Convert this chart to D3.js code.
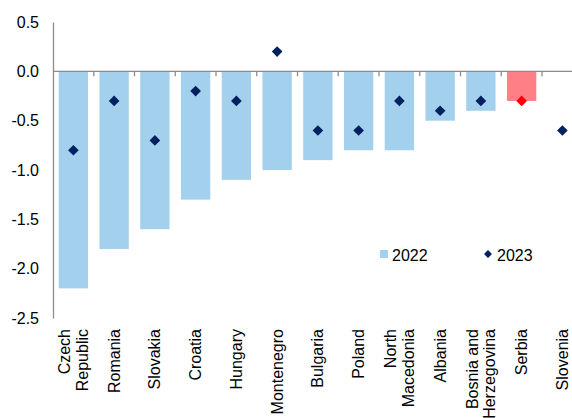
<!DOCTYPE html>
<html>
  <head>
    <script src="https://d3js.org/d3.v7.min.js"></script>
    <style>
      body {
        margin: 0;
        background: #ffffff;
      }
      svg text {
        font-family: "Liberation Sans", Arial, sans-serif;
        font-size: 16px;
        fill: #000000;
      }
    </style>
  </head>

  <body>
    <div id="chartContainer"></div>
  </body>

  <script type="text/javascript">
    const countries = [
      "Czech\nRepublic",
      "Romania",
      "Slovakia",
      "Croatia",
      "Hungary",
      "Montenegro",
      "Bulgaria",
      "Poland",
      "North\nMacedonia",
      "Albania",
      "Bosnia and\nHerzegovina",
      "Serbia",
      "Slovenia",
    ];
    const val2022 = [-2.2, -1.8, -1.6, -1.3, -1.1, -1.0, -0.9, -0.8, -0.8, -0.5, -0.4, -0.3, null];
    const val2023 = [-0.8, -0.3, -0.7, -0.2, -0.3, 0.2, -0.6, -0.6, -0.3, -0.4, -0.3, -0.3, -0.6];
    const yTicks = [0.5, 0.0, -0.5, -1.0, -1.5, -2.0, -2.5];
    const highlight = "Serbia";

    const width = 572,
      height = 418;

    const svg = d3
      .select("#chartContainer")
      .append("svg")
      .attr("width", width)
      .attr("height", height);

    // plot runs off the right edge, like the original crop
    const step = 40.75;
    const x = d3
      .scaleBand()
      .domain(countries)
      .range([53, 53 + countries.length * step])
      .paddingInner(0.28)
      .paddingOuter(0.14);

    const y = d3.scaleLinear().domain([-2.5, 0.5]).range([318, 22]);

    const data = countries.map((c, i) => ({
      country: c,
      v22: val2022[i],
      v23: val2023[i],
    }));

    // bars
    svg
      .selectAll("rect.bar")
      .data(data.filter((d) => d.v22 !== null))
      .enter()
      .append("rect")
      .attr("class", "bar")
      .attr("x", (d) => x(d.country))
      .attr("width", x.bandwidth())
      .attr("y", (d) => y(0) + 0.5)
      .attr("height", (d) => y(d.v22) - y(0) - 0.5)
      .attr("fill", (d) => (d.country === highlight ? "#ff7f87" : "#a3d0ec"));

    // y axis
    const yAxis = svg
      .append("g")
      .attr("transform", "translate(53,0)")
      .call(
        d3
          .axisLeft(y)
          .tickValues(yTicks)
          .tickSize(0)
          .tickPadding(14)
          .tickFormat((d) => d.toFixed(1))
      );
    yAxis.select(".domain").attr("stroke", "#8c8c8c").attr("stroke-width", 1.3);
    yAxis
      .selectAll("text")
      .attr("font-family", null)
      .attr("font-size", null)
      .attr("fill", null);

    // zero line with ticks between categories
    const x0 = x.range()[0];
    svg
      .append("line")
      .attr("x1", x0)
      .attr("x2", x.range()[1])
      .attr("y1", y(0))
      .attr("y2", y(0))
      .attr("stroke", "#8c8c8c")
      .attr("stroke-width", 1.3);

    svg
      .selectAll("line.tick")
      .data(d3.range(1, countries.length + 1))
      .enter()
      .append("line")
      .attr("class", "tick")
      .attr("x1", (i) => x0 + i * x.step())
      .attr("x2", (i) => x0 + i * x.step())
      .attr("y1", y(0))
      .attr("y2", y(0) + 5)
      .attr("stroke", "#8c8c8c")
      .attr("stroke-width", 1.3);

    // diamonds
    const diamond = d3.symbol().type(d3.symbolDiamond2);
    svg
      .selectAll("path.pt")
      .data(data)
      .enter()
      .append("path")
      .attr("class", "pt")
      .attr("d", diamond.size(72))
      .attr(
        "transform",
        (d) => `translate(${x(d.country) + x.bandwidth() / 2},${y(d.v23)})`
      )
      .attr("fill", (d) => (d.country === highlight ? "#ff0000" : "#002060"));

    // category labels
    const labels = svg
      .selectAll("text.cat")
      .data(data)
      .enter()
      .append("text")
      .attr("class", "cat")
      .attr("text-anchor", "end")
      .attr(
        "transform",
        (d) => `translate(${x(d.country) + x.bandwidth() / 2},329) rotate(-90)`
      );

    labels.each(function (d) {
      const lines = d.country.split("\n");
      const t = d3.select(this);
      lines.forEach((ln, i) => {
        const offset = 0.35 + (i - (lines.length - 1) / 2) * 1.1;
        t.append("tspan").attr("x", 0).attr("dy", null).attr("y", offset + "em").text(ln);
      });
    });

    // legend
    const legend = svg.append("g");
    legend
      .append("rect")
      .attr("x", 380)
      .attr("y", 250)
      .attr("width", 8)
      .attr("height", 8)
      .attr("fill", "#a3d0ec");
    legend.append("text").attr("x", 392).attr("y", 261).text("2022");
    legend
      .append("path")
      .attr("d", diamond.size(40))
      .attr("transform", "translate(488,254)")
      .attr("fill", "#002060");
    legend.append("text").attr("x", 497).attr("y", 261).text("2023");
  </script>
</html>
